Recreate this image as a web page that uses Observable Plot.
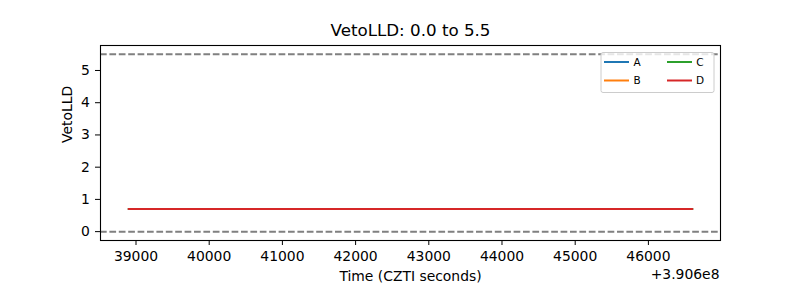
<!DOCTYPE html>
<html><head><meta charset="utf-8">
<script src="https://cdn.jsdelivr.net/npm/d3@7"></script>
<script src="https://cdn.jsdelivr.net/npm/@observablehq/plot@0.6"></script>
<style>body{margin:0;background:#fff} #chart svg{font-family:"DejaVu Sans";}</style>
</head><body><div id="chart"></div>
<script>
const OFFSET = 390600000;
const seriesNames = ["A", "B", "C", "D"];
const seriesColors = ["#1f77b4", "#ff7f0e", "#2ca02c", "#d62728"];
const times = [390638900, 390642000, 390646600];
const valuesA = [0.7, 0.7, 0.7];
const valuesB = [0.7, 0.7, 0.7];
const valuesC = [0.7, 0.7, 0.7];
const valuesD = [0.7, 0.7, 0.7];
const thresholds = [0.0, 5.5];
const xTickLabels = [39000, 40000, 41000, 42000, 43000, 44000, 45000, 46000];
const yTickLabels = [0, 1, 2, 3, 4, 5];

const allValues = [valuesA, valuesB, valuesC, valuesD];
const data = [];
seriesNames.forEach((s, i) => times.forEach((t, j) => data.push({series: s, t, v: allValues[i][j]})));

const tMin = d3.min(times), tMax = d3.max(times);
const tPad = (tMax - tMin) * 0.05;
const vMin = thresholds[0], vMax = thresholds[1];
const vPad = (vMax - vMin) * 0.05;

const chart = Plot.plot({
  width: 800,
  height: 300,
  marginLeft: 100,
  marginRight: 80,
  marginTop: 45,
  marginBottom: 60,
  style: {fontFamily: "DejaVu Sans", fontSize: "13.9px", color: "#000", background: "#fff"},
  x: {domain: [tMin - tPad, tMax + tPad]},
  y: {domain: [vMin - vPad, vMax + vPad]},
  color: {domain: seriesNames, range: seriesColors},
  marks: [
    Plot.ruleY(thresholds, {stroke: "#808080", strokeWidth: 2, strokeDasharray: "6.7,2.7"}),
    Plot.line(data, {x: "t", y: "v", z: "series", stroke: "series", strokeWidth: 2}),
    Plot.frame({stroke: "#000", strokeWidth: 1.1}),
    Plot.axisX(xTickLabels.map(d => d + OFFSET), {tickFormat: d => String(d - OFFSET), tickSize: 5, tickPadding: 6, label: null, fontSize: 13.9, stroke: "#000"}),
    Plot.axisY(yTickLabels, {tickFormat: d => String(d), tickSize: 5, tickPadding: 5.7, label: null, fontSize: 13.9, stroke: "#000"}),
    Plot.text(["VetoLLD: 0.0 to 5.5"], {frameAnchor: "top", lineAnchor: "middle", dy: -15, fontSize: 16.7, fill: "#000"}),
    Plot.text(["Time (CZTI seconds)"], {frameAnchor: "bottom", lineAnchor: "middle", dy: 36, fontSize: 13.9, fill: "#000"}),
    Plot.text(["+3.906e8"], {frameAnchor: "bottom-right", lineAnchor: "middle", textAnchor: "end", dy: 34, dx: -1, fontSize: 13.9, fill: "#000"}),
    Plot.text(["VetoLLD"], {frameAnchor: "left", lineAnchor: "middle", rotate: -90, dx: -33, fontSize: 13.9, fill: "#000"})
  ]
});
document.getElementById("chart").appendChild(chart);

// legend
const svg = d3.select(chart);
const lg = svg.append("g").attr("font-family", "DejaVu Sans").attr("font-size", 10.5);
lg.append("rect").attr("x", 601).attr("y", 52.5).attr("width", 113).attr("height", 40)
  .attr("rx", 2).attr("fill", "#fff").attr("fill-opacity", 0.8).attr("stroke", "#ccc").attr("stroke-width", 1);
seriesNames.forEach((s, i) => {
  const col = Math.floor(i / 2), row = i % 2;
  const x0 = 604 + col * 63, y0 = 62 + row * 18.5;
  lg.append("line").attr("x1", x0).attr("x2", x0 + 25).attr("y1", y0).attr("y2", y0)
    .attr("stroke", seriesColors[i]).attr("stroke-width", 2);
  lg.append("text").attr("x", x0 + 33).attr("y", y0).attr("dy", "0.35em").attr("fill", "#000").text(s);
});
</script></body></html>
